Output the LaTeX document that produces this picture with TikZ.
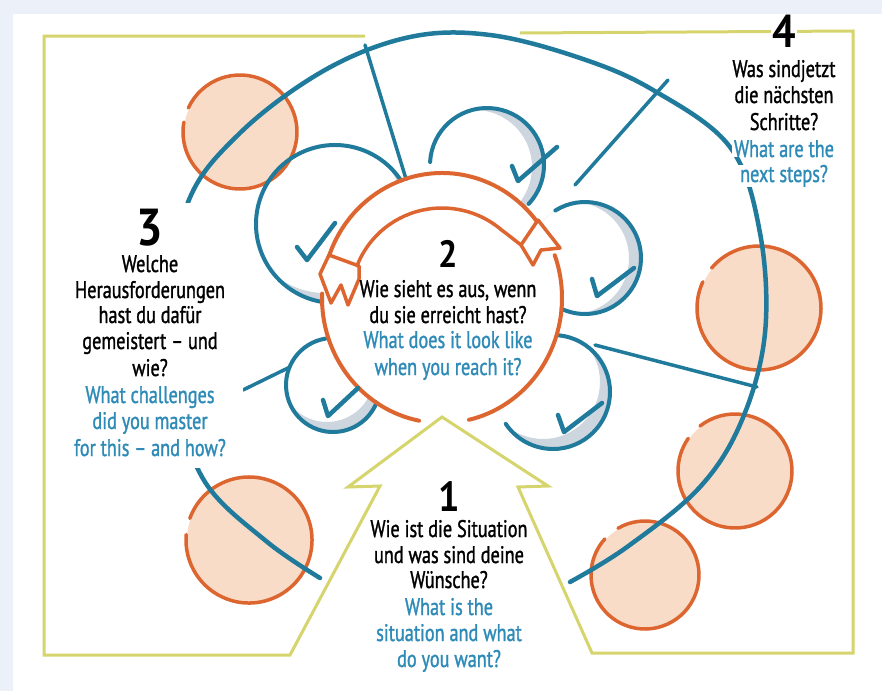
\documentclass[tikz,border=0pt]{standalone}
\usepackage{fontspec}
\newfontfamily\hand[FakeStretch=0.76,FakeBold=1.2]{PT Sans}
\newfontfamily\handnum[FakeStretch=0.9]{PT Sans}
\definecolor{bandc}{HTML}{ECF0F8}
\definecolor{yel}{HTML}{D6D46C}
\definecolor{blu}{HTML}{1F7A9C}
\definecolor{tblu}{HTML}{2E8BB8}
\definecolor{ora}{HTML}{DD6630}
\definecolor{peach}{HTML}{F8DCC8}
\definecolor{shd}{HTML}{CDD5DF}
\newcommand\mycres[5]{%
  \begin{scope}
    \clip (#1,#2) circle[radius=#3];
    \fill[shd, even odd rule] (#1,#2) circle[radius=#3] ({#1+#4},{#2+#5}) circle[radius=#3];
  \end{scope}}
\newcommand\mypeach[5]{% cx cy r gapstart gapend
  \fill[peach] (#1,#2) circle[radius=#3-1];
  \draw[ol, line width=3.5pt] (#1,#2) ++(#5:#3) arc[start angle=#5, end angle={#4+360}, radius=#3];}
\tikzset{
  yl/.style={draw=yel, line width=3pt, line join=miter},
  bl/.style={draw=blu, line width=4pt, line cap=round},
  ol/.style={draw=ora, line width=4pt, line cap=round},
  tick/.style={draw=blu, line width=4.5pt, line cap=round, line join=round},
  txt/.style={font=\hand\fontsize{24}{26}\selectfont, anchor=base, inner sep=0pt},
  bk/.style={txt, text=black},
  bt/.style={txt, text=tblu},
  num/.style={anchor=base, inner sep=0pt, text=black, font=\handnum\bfseries\fontsize{#1}{#1}\selectfont},
}
\begin{document}
\begin{tikzpicture}[x=1pt,y=-1pt]
\useasboundingbox (0,0) rectangle (882,691);
\fill[bandc] (0,0) rectangle (882,691);
\fill[white] (13,14) rectangle (882,691);

% peach circles
\mypeach{240}{132}{57}{190}{205}
\mypeach{249}{540}{63}{185}{200}
\mypeach{759}{308}{62}{205}{220}
\mypeach{735}{471}{57}{215}{232}
\mypeach{645}{575}{54}{222}{240}

% big blue spiral arc
\draw[bl, line width=4.5pt] plot[smooth, tension=0.6] coordinates {(320,578) (266,541) (205,482) (177,400) (172,320) (187,205) (240,133) (325,70) (410,37) (490,35) (580,58) (653,90) (730,147) (760,233) (765,333) (742,420) (700,487) (627,547) (570,582)};
% radial lines
\draw[bl, line width=3.5pt] (365,45) -- (410,192);
\draw[bl, line width=3.5pt] (668,80) -- (575,185);
\draw[bl, line width=3.5pt] (757,387) -- (595,345);
\draw[bl, line width=3.5pt] (243,390) -- (290,367);

% white box behind text 3
\fill[white] (60,203) rectangle (243,468);

% gray crescents
\mycres{335}{224}{79}{-10}{-10}
\mycres{487}{165}{57}{-12}{2}
\mycres{585}{258}{56}{-12}{0}
\mycres{553}{392}{57}{-10}{-10}
\mycres{333}{385}{47}{-6}{-10}

% blue open circles
\draw[bl] (335,224) ++(331:79) arc[start angle=331, end angle=97, radius=79];
\draw[bl] (487,165) ++(183:57) arc[start angle=183, end angle=403, radius=57];
\draw[bl] (585,258) ++(238:56) arc[start angle=238, end angle=475, radius=56];
\draw[bl] (553,392) ++(276:57) arc[start angle=276, end angle=506, radius=57];
\draw[bl] (333,385) ++(261:47) arc[start angle=261, end angle=19, radius=47];

% ring interior
\fill[white] (442,298) ellipse[x radius=118, y radius=123];

% yellow frame with arrow
\draw[yl] (365,36) -- (44,36) -- (44,655) -- (290,655) -- (380,486) -- (348,487) -- (442,417) -- (548,486) -- (518,487) -- (592,653) -- (853,653) -- (853,31) -- (520,33);

% orange ring
\draw[ol] (442,298) ++(101:120 and 125) arc[start angle=101, end angle=182, x radius=120, y radius=125];
\draw[ol] (442,298) ++(200:120 and 125) arc[start angle=200, end angle=322, x radius=120, y radius=125];
\draw[ol] (442,298) ++(340:120 and 125) arc[start angle=340, end angle=437, x radius=120, y radius=125];
% ribbon inner edge
\draw[ol, line width=3.5pt] (442,298) ++(201:91 and 90) arc[start angle=201, end angle=312, x radius=91, y radius=90];
% ribbon ends
\draw[ol, line width=3.5pt, line join=round] (329,255) -- (359,266);
\draw[ol, line width=3.5pt, line join=round] (329,255) -- (320,274) -- (331,303) -- (341,285) -- (348,305) -- (359,279) -- (359,266);
\draw[ol, line width=3.5pt, line join=round] (538,220) -- (521,245);
\draw[ol, line width=3.5pt, line join=round] (503,231) -- (521,245) -- (533,265) -- (541,250) -- (560,248) -- (538,220);

% check marks
\draw[tick] (297,247) -- (307,260) -- (335,223);
\draw[tick] (512,166) -- (518,181) -- (557,147);
\draw[tick] (592,279) -- (597,296) -- (634,268);
\draw[tick] (558,415) -- (564,432) -- (602,403);
\draw[tick] (323,400) -- (328,416) -- (358,388);

% text 3
\node[num=52] (n3) at (150,245) {3};
\node[bk] (t3a) at (150,272) {Welche};
\node[bk] (t3b) at (150,298) {Herausforderungen};
\node[bk] (t3c) at (150,323) {hast du dafür};
\node[bk] (t3d) at (150,349) {gemeistert – und};
\node[bk] (t3e) at (150,376) {wie?};
\node[bt] (t3f) at (150,403) {What challenges};
\node[bt] (t3g) at (150,429) {did you master};
\node[bt] (t3h) at (150,456) {for this – and how?};

% text 2
\node[num=38] (n2) at (448,267) {2};
\node[bk] (t2a) at (448,297) {Wie sieht es aus, wenn};
\node[bk] (t2b) at (448,323) {du sie erreicht hast?};
\node[bt] (t2c) at (448,348) {What does it look like};
\node[bt] (t2d) at (448,375) {when you reach it?};

% text 1
\node[num=42] (n1) at (449,511) {1};
\node[bk] (t1a) at (449,537) {Wie ist die Situation};
\node[bk] (t1b) at (449,563) {und was sind deine};
\node[bk] (t1c) at (449,588) {Wünsche?};
\node[bt] (t1d) at (449,615) {What is the};
\node[bt] (t1e) at (449,641) {situation and what};
\node[bt] (t1f) at (449,667) {do you want?};

% text 4
\node[num=46, fill=white, inner xsep=1pt] (n4) at (784,47) {4};
\node[bk] (t4a) at (784,77) {Was sindjetzt};
\node[bk] (t4b) at (784,103) {die nächsten};
\node[bk] (t4c) at (784,130) {Schritte?};
\node[bt, fill=white, inner xsep=2pt] (t4d) at (784,157) {What are the};
\node[bt, fill=white, inner xsep=2pt] (t4e) at (784,182) {next steps?};
\end{tikzpicture}
\end{document}
